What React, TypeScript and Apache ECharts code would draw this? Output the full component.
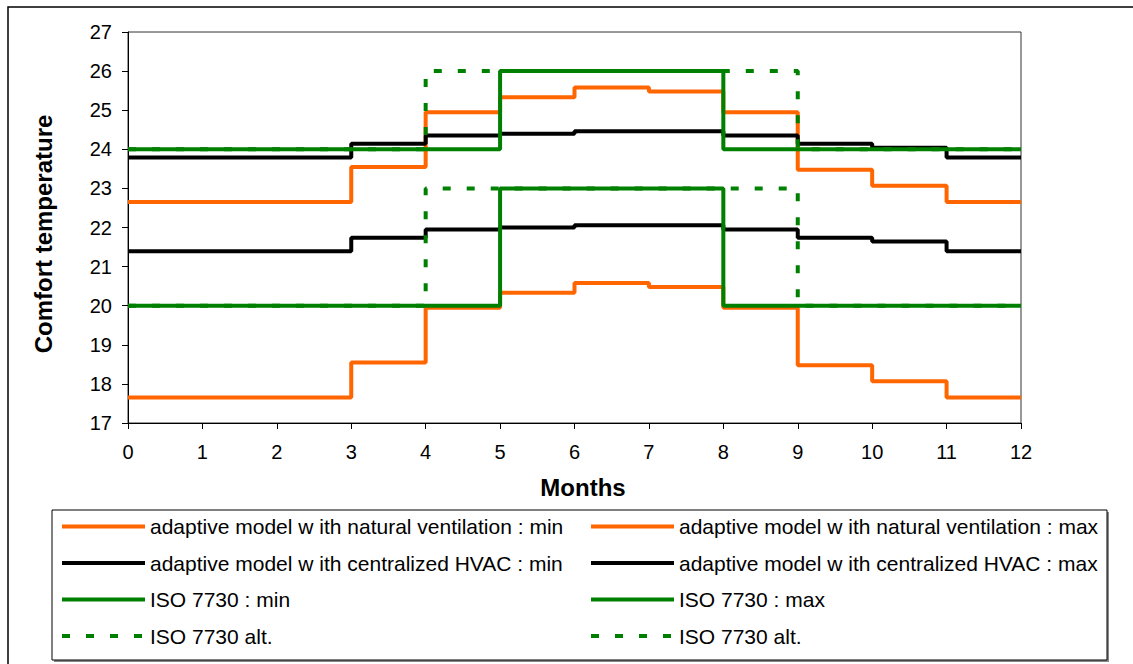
import React, { useEffect, useRef } from "react";
import * as echarts from "echarts";

// Monthly step values (value holds over [i, i+1])
const monthTicks = [0, 1, 2, 3, 4, 5, 6, 7, 8, 9, 10, 11, 12];
const natMin = [17.65, 17.65, 17.65, 18.55, 19.95, 20.33, 20.58, 20.48, 19.95, 18.48, 18.07, 17.65];
const natMax = [22.65, 22.65, 22.65, 23.55, 24.95, 25.33, 25.58, 25.48, 24.95, 23.48, 23.07, 22.65];
const hvacMin = [21.39, 21.39, 21.39, 21.74, 21.95, 22.0, 22.06, 22.06, 21.95, 21.74, 21.64, 21.39];
const hvacMax = [23.79, 23.79, 23.79, 24.14, 24.35, 24.4, 24.46, 24.46, 24.35, 24.14, 24.04, 23.79];
const isoMin = [20, 20, 20, 20, 20, 23, 23, 23, 20, 20, 20, 20];
const isoMax = [24, 24, 24, 24, 24, 26, 26, 26, 24, 24, 24, 24];
const altMin = [20, 20, 20, 20, 23, 23, 23, 23, 23, 20, 20, 20];
const altMax = [24, 24, 24, 24, 26, 26, 26, 26, 26, 24, 24, 24];

const names = {
  natMin: "adaptive model w ith natural ventilation : min",
  natMax: "adaptive model w ith natural ventilation : max",
  hvacMin: "adaptive model w ith centralized HVAC : min",
  hvacMax: "adaptive model w ith centralized HVAC : max",
  isoMin: "ISO 7730 : min",
  isoMax: "ISO 7730 : max",
  altMin: "ISO 7730 alt. (min)",
  altMax: "ISO 7730 alt. (max)",
};

const ORANGE = "#FF6600";
const BLACK = "#000000";
const GREEN = "#008000";
const FONT = "Liberation Sans";

function steps(vals: number[]) {
  const pts = vals.map((v, i) => [monthTicks[i], v]);
  pts.push([monthTicks[monthTicks.length - 1], vals[vals.length - 1]]);
  return pts;
}

function mk(name: string, vals: number[], color: string, dashed = false) {
  return {
    name,
    type: "line",
    step: "end",
    data: steps(vals),
    symbol: "none",
    showSymbol: false,
    lineStyle: { color, width: 4, type: dashed ? [8, 16] : "solid", cap: "butt" },
    itemStyle: { color },
    emphasis: { disabled: true },
  };
}

export default function App() {
  const ref = useRef<HTMLDivElement>(null);
  useEffect(() => {
    if (!ref.current) return;
    const chart = echarts.init(ref.current, undefined, { renderer: "svg" });
    const legendCommon = {
      orient: "vertical",
      itemWidth: 83,
      itemHeight: 14,
      itemGap: 15.5,
      top: 516,
      padding: 0,
      selectedMode: false,
      textStyle: { fontFamily: FONT, fontSize: 21, color: "#000" },
      lineStyle: { width: 4 },
      itemStyle: { opacity: 0, borderWidth: 0 },
      formatter: (n: string) => (n.indexOf("ISO 7730 alt.") === 0 ? "ISO 7730 alt." : n),
    };
    chart.setOption({
      animation: false,
      backgroundColor: "#fff",
      grid: { left: 128, top: 32, width: 893, height: 391, show: true, borderColor: "#333", borderWidth: 1, backgroundColor: "transparent" },
      xAxis: {
        type: "value",
        min: 0,
        max: 12,
        interval: 1,
        axisLine: { show: true, lineStyle: { color: "#000", width: 1 } },
        axisTick: { show: true, inside: false, length: 6, lineStyle: { color: "#000" } },
        splitLine: { show: false },
        axisLabel: { fontFamily: FONT, fontSize: 20, color: "#000", margin: 19 },
      },
      yAxis: {
        type: "value",
        min: 17,
        max: 27,
        interval: 1,
        axisLine: { show: true, lineStyle: { color: "#000", width: 1 } },
        axisTick: { show: true, inside: false, length: 6, lineStyle: { color: "#000" } },
        splitLine: { show: false },
        axisLabel: { fontFamily: FONT, fontSize: 20, color: "#000", margin: 16 },
      },
      legend: [
        { ...legendCommon, left: 60, data: [names.natMin, names.hvacMin, names.isoMin, names.altMin] },
        { ...legendCommon, left: 589, data: [names.natMax, names.hvacMax, names.isoMax, names.altMax] },
      ],
      graphic: [
        { type: "rect", z: -10, shape: { x: 8, y: 7, width: 1300, height: 800 }, style: { fill: "none", stroke: "#000", lineWidth: 1.5 } },
        { type: "rect", z: -9, shape: { x: 54, y: 512, width: 1055, height: 150 }, style: { fill: "#888", stroke: "none" } },
        { type: "rect", z: -8, shape: { x: 52, y: 510, width: 1055, height: 150 }, style: { fill: "#fff", stroke: "#000", lineWidth: 1 } },
        {
          type: "text",
          x: 43,
          y: 234,
          rotation: Math.PI / 2,
          style: { text: "Comfort temperature", fontFamily: FONT, fontSize: 24, fontWeight: "bold", fill: "#000", align: "center", verticalAlign: "middle" },
        },
        {
          type: "text",
          x: 583,
          y: 487,
          style: { text: "Months", fontFamily: FONT, fontSize: 24, fontWeight: "bold", fill: "#000", align: "center", verticalAlign: "middle" },
        },
      ],
      series: [
        mk(names.natMin, natMin, ORANGE),
        mk(names.natMax, natMax, ORANGE),
        mk(names.hvacMin, hvacMin, BLACK),
        mk(names.hvacMax, hvacMax, BLACK),
        mk(names.isoMin, isoMin, GREEN),
        mk(names.isoMax, isoMax, GREEN),
        mk(names.altMin, altMin, GREEN, true),
        mk(names.altMax, altMax, GREEN, true),
      ],
    });
    return () => chart.dispose();
  }, []);
  return <div ref={ref} style={{ position: "absolute", left: 0, top: 0, width: 1133, height: 664 }} />;
}
